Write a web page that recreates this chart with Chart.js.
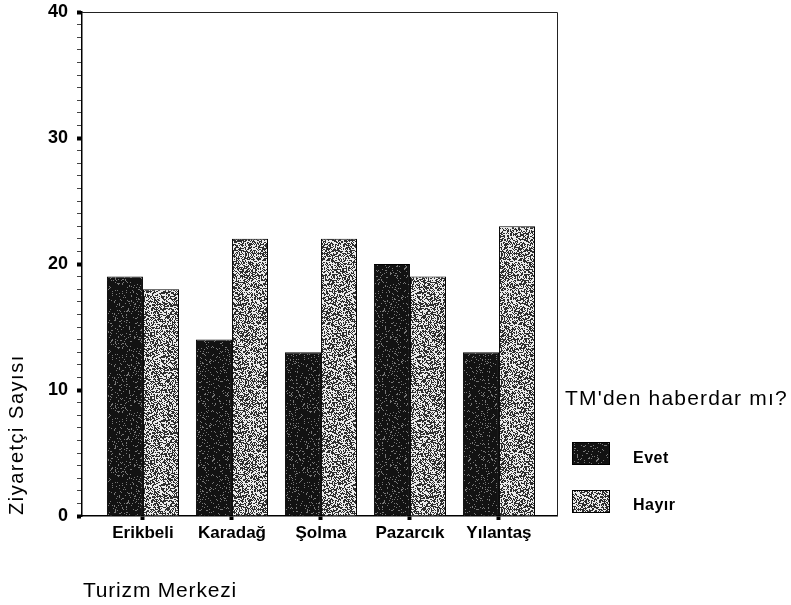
<!DOCTYPE html>
<html>
<head>
<meta charset="utf-8">
<script src="https://cdn.jsdelivr.net/npm/chart.js@4"></script>
<style>
  html, body { margin: 0; padding: 0; background: #fff; }
  #wrap { width: 791px; height: 605px; }
</style>
</head>
<body>
<div id="wrap"><canvas id="c" width="791" height="605"></canvas></div>
<script>
// ---- data ----
const categories = ['Erikbeli', 'Karadağ', 'Şolma', 'Pazarcık', 'Yılantaş'];
const evetValues = [19, 14, 13, 20, 13];
const hayirValues = [18, 22, 22, 19, 23];
const seriesNames = ['Evet', 'Hayır'];
const yTickLabels = [0, 10, 20, 30, 40];
const yAxisTitle = 'Ziyaretçi Sayısı';
const xAxisTitle = 'Turizm Merkezi';
const legendTitle = "TM'den haberdar mı?";

const FONT = "'Liberation Sans', Arial, sans-serif";

function makePattern(dark, light, pDark, seed) {
  const c = document.createElement('canvas');
  c.width = 64; c.height = 64;
  const g = c.getContext('2d');
  const img = g.createImageData(64, 64);
  let s = seed >>> 0;
  for (let i = 0; i < 64 * 64; i++) {
    s ^= s << 13; s >>>= 0;
    s ^= s >>> 17;
    s ^= s << 5; s >>>= 0;
    const r = (s % 10000) / 10000;
    const v = r < pDark ? dark : light;
    img.data[i * 4] = v; img.data[i * 4 + 1] = v; img.data[i * 4 + 2] = v; img.data[i * 4 + 3] = 255;
  }
  g.putImageData(img, 0, 0);
  return document.getElementById('c').getContext('2d').createPattern(c, 'repeat');
}

const evetFill = makePattern(18, 120, 0.9, 12345);
const hayirFill = makePattern(45, 235, 0.5, 98765);

const toPoints = arr => arr.map((v, i) => ({ x: i, y: v }));

const decorPlugin = {
  id: 'decor',
  afterDraw(chart) {
    const ctx = chart.ctx;
    const a = chart.chartArea;
    ctx.save();
    // frame top/right
    ctx.strokeStyle = '#222';
    ctx.lineWidth = 1;
    ctx.beginPath();
    ctx.moveTo(a.left, a.top + 0.5);
    ctx.lineTo(a.right + 0.5, a.top + 0.5);
    ctx.lineTo(a.right + 0.5, a.bottom);
    ctx.stroke();

    ctx.fillStyle = '#000';
    // y-axis title
    ctx.save();
    ctx.translate(23, 515);
    ctx.rotate(-Math.PI / 2);
    ctx.font = '20px ' + FONT;
    ctx.letterSpacing = '1.5px';
    ctx.textAlign = 'left';
    ctx.textBaseline = 'alphabetic';
    ctx.fillText(yAxisTitle, 0, 0);
    ctx.restore();

    // x-axis title
    ctx.font = '21px ' + FONT;
    ctx.letterSpacing = '0.8px';
    ctx.textAlign = 'left';
    ctx.textBaseline = 'alphabetic';
    ctx.fillText(xAxisTitle, 83, 597);

    // legend
    ctx.font = '21px ' + FONT;
    ctx.letterSpacing = '1.2px';
    ctx.fillText(legendTitle, 565, 405);

    const fills = [evetFill, hayirFill];
    const boxTops = [442, 490];
    const baselines = [463, 510];
    ctx.letterSpacing = '0.5px';
    ctx.font = 'bold 16px ' + FONT;
    for (let i = 0; i < seriesNames.length; i++) {
      ctx.fillStyle = fills[i];
      ctx.fillRect(572, boxTops[i], 38, 23);
      ctx.strokeStyle = '#000';
      ctx.lineWidth = 1;
      ctx.strokeRect(572.5, boxTops[i] + 0.5, 37, 22);
      ctx.fillStyle = '#000';
      ctx.fillText(seriesNames[i], 633, baselines[i]);
    }
    ctx.restore();
  }
};

new Chart(document.getElementById('c'), {
  type: 'bar',
  data: {
    datasets: [
      { label: seriesNames[0], data: toPoints(evetValues), backgroundColor: evetFill, borderColor: '#000', borderWidth: 1, categoryPercentage: 0.81, barPercentage: 1.0 },
      { label: seriesNames[1], data: toPoints(hayirValues), backgroundColor: hayirFill, borderColor: '#000', borderWidth: 1, categoryPercentage: 0.81, barPercentage: 1.0 }
    ]
  },
  options: {
    responsive: false,
    animation: false,
    layout: { padding: { left: 0, top: 12, right: 234, bottom: 0 } },
    plugins: { legend: { display: false }, tooltip: { enabled: false }, title: { display: false } },
    scales: {
      x: {
        type: 'linear',
        min: -0.685,
        max: 4.652,
        offset: false,
        afterBuildTicks: s => { s.ticks = categories.map((c, i) => ({ value: i })); },
        afterFit: s => { s.height = 89; s.paddingLeft = 0; s.paddingRight = 0; },
        ticks: {
          autoSkip: false,
          maxRotation: 0,
          padding: 3,
          color: '#000',
          font: { family: FONT, size: 17, weight: 'bold' },
          callback: v => categories[v]
        },
        grid: { display: true, offset: false, drawOnChartArea: false, drawTicks: true, tickLength: 4, tickWidth: 4, tickColor: '#000' },
        border: { display: true, color: '#000', width: 1.5 }
      },
      y: {
        min: 0,
        max: 40,
        afterBuildTicks: s => { s.ticks = Array.from({ length: 41 }, (_, i) => ({ value: i })); },
        afterFit: s => { s.width = 82; s.paddingTop = 0; s.paddingBottom = 0; },
        ticks: {
          autoSkip: false,
          padding: 9,
          color: '#000',
          font: { family: FONT, size: 18, weight: 'bold' },
          callback: v => yTickLabels.includes(v) ? String(v) : ''
        },
        grid: {
          display: true, offset: false, drawOnChartArea: false, drawTicks: true, tickLength: 5,
          tickWidth: c => (c.tick && yTickLabels.includes(c.tick.value)) ? 4 : 1,
          tickColor: c => (c.tick && yTickLabels.includes(c.tick.value)) ? '#000' : '#444'
        },
        border: { display: true, color: '#000', width: 1.5 }
      }
    }
  },
  plugins: [decorPlugin]
});
</script>
</body>
</html>
